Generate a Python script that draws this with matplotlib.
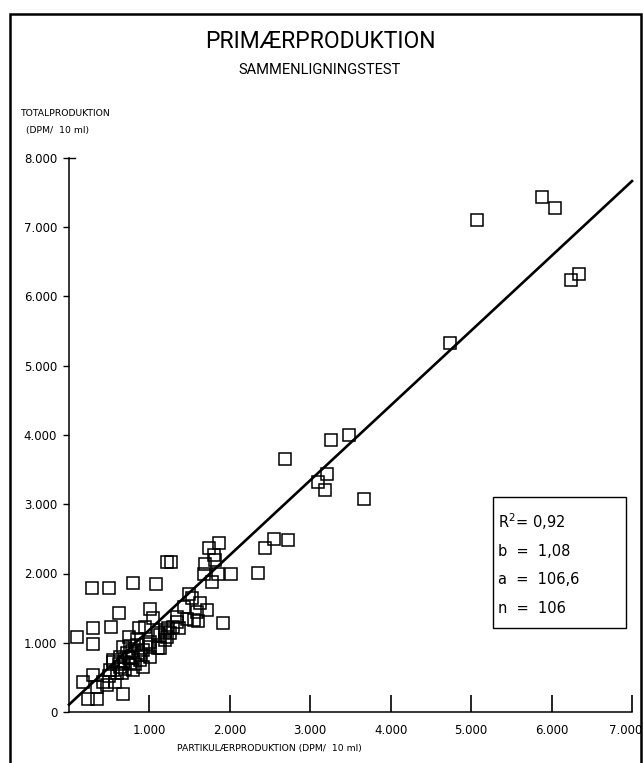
import matplotlib
matplotlib.use("Agg")
import matplotlib.pyplot as plt
from matplotlib.patches import Rectangle
from matplotlib.transforms import ScaledTranslation
import numpy as np

# ---- data (DPM / 10 ml) ----
partikulaer = [
    5068, 5886, 6040, 6239, 6335, 4732,
    3263, 3479, 2682, 3209, 3092, 3188, 3674, 2553, 2719, 2441, 2350,
    1735, 1859, 1806, 1818, 1694, 1673, 1847, 2017, 1777, 1486, 1528,
    1623, 1714, 1590, 1424, 1465, 1602, 1914, 1341, 1362, 1237, 1196,
    1224, 1270, 290, 498, 793, 1080, 626, 1009, 1042, 96, 303, 519, 295,
    872, 751, 676, 178, 303, 240, 345,
    345, 427, 469, 502, 544, 573, 656, 510, 594, 635, 552, 635, 718, 760,
    801, 801, 884, 925, 1009, 925, 676, 843, 1009, 1112, 1196, 1133, 1009,
    1133, 946, 1112, 1217, 1196, 1299, 1258, 1341, 1548,
    690, 740, 780, 820, 860, 700, 760, 900, 960, 620, 850,
]
total = [
    7100, 7436, 7277, 6244, 6320, 5329,
    3925, 3997, 3651, 3434, 3323, 3203, 3078, 2496, 2482, 2362, 2010,
    2362, 2443, 2265, 2193, 2136, 1991, 1991, 1991, 1871, 1703, 1641,
    1577, 1472, 1447, 1519, 1342, 1318, 1280, 1375, 1207, 1207, 1159,
    2169, 2169, 1785, 1785, 1857, 1847, 1433, 1486, 1352, 1087, 1216, 1231, 981,
    1216, 1087, 260, 437, 534, 183, 183,
    365, 437, 390, 519, 726, 437, 567, 606, 558, 654, 750, 798, 847, 703,
    798, 606, 750, 654, 798, 895, 942, 967, 1014, 919, 1039, 1111, 942,
    919, 1231, 1136, 1087, 1183, 1231, 1136, 1303, 1328,
    720, 780, 880, 700, 850, 620, 950, 820, 980, 700, 1060,
]

# regression statistics shown in the box
r2 = "0,92"
slope_b = 1.08
intercept_a = 106.6
n_obs = 106

x_ticks = [1000, 2000, 3000, 4000, 5000, 6000, 7000]
x_ticklabels = ["1.000", "2.000", "3.000", "4.000", "5.000", "6.000", "7.000"]
y_ticks = [0, 1000, 2000, 3000, 4000, 5000, 6000, 7000, 8000]
y_ticklabels = ["0", "1.000", "2.000", "3.000", "4.000", "5.000", "6.000", "7.000", "8.000"]

# ---- figure ----
W, H = 643, 763
fig = plt.figure(figsize=(W / 100, H / 100), dpi=100)
fig.patch.set_facecolor("white")

ax = fig.add_axes([69 / W, 1 - 712 / H, (632 - 69) / W, (712 - 158) / H])
ax.set_xlim(0, 7000)
ax.set_ylim(0, 8000)

ax.plot(partikulaer, total, linestyle="none", marker="s", markersize=8.5,
        markerfacecolor="none", markeredgecolor="black", markeredgewidth=1.1,
        clip_on=False)

xl = np.array([0, 7000])
ax.plot(xl, intercept_a + slope_b * xl, color="black", linewidth=1.9, clip_on=False)

for s in ["top", "right"]:
    ax.spines[s].set_visible(False)
ax.spines["left"].set_linewidth(1.1)
ax.spines["bottom"].set_linewidth(1.1)

ax.set_xticks(x_ticks)
ax.set_xticklabels(x_ticklabels)
ax.set_yticks(y_ticks)
ax.set_yticklabels(y_ticklabels)
ax.tick_params(axis="x", direction="in", length=12, width=1.2, pad=9, labelsize=8.5)
ax.tick_params(axis="y", direction="out", length=4.5, width=1.0, pad=4, labelsize=8.5)

# keep the last x label inside the page
last = ax.get_xticklabels()[-1]
last.set_horizontalalignment("right")
last.set_transform(last.get_transform() + ScaledTranslation(10 / 100, 0, fig.dpi_scale_trans))

# small flag at the top of the y axis
ax.plot([0, 70], [8000, 8000], color="black", linewidth=1.0, clip_on=False)

# statistics box
ax.add_patch(Rectangle((5268, 1212), 6924 - 5268, 3102 - 1212, fill=False,
                       edgecolor="black", linewidth=1.0))
stats = [("R$^{2}$= " + r2, 2742), ("b  =  " + f"{slope_b:.2f}".replace(".", ","), 2323),
         ("a  =  " + f"{intercept_a:.1f}".replace(".", ","), 1919), ("n  =  " + str(n_obs), 1500)]
for txt, yv in stats:
    ax.text(5330, yv, txt, fontsize=10.5, va="center", ha="left")

# titles / labels
fig.text(320 / W, 1 - 42 / H, "PRIMÆRPRODUKTION", ha="center", va="center",
         fontsize=16.5, family="Roboto")
fig.text(320 / W, 1 - 70 / H, "SAMMENLIGNINGSTEST", ha="center", va="center",
         fontsize=10.5, family="Roboto")
fig.text(20 / W, 1 - 113 / H, "TOTALPRODUKTION", ha="left", va="center", fontsize=6.7)
fig.text(26 / W, 1 - 131 / H, "(DPM/  10 ml)", ha="left", va="center", fontsize=6.7)
fig.text(269 / W, 1 - 748 / H, "PARTIKULÆRPRODUKTION (DPM/  10 ml)", ha="center",
         va="center", fontsize=6.7)

# page frame
fig.add_artist(Rectangle((10 / W, -0.05), (641 - 10) / W, 1.05 - 14 / H,
                         transform=fig.transFigure, fill=False,
                         edgecolor="black", linewidth=1.8))

fig.savefig("out.png", dpi=100)
